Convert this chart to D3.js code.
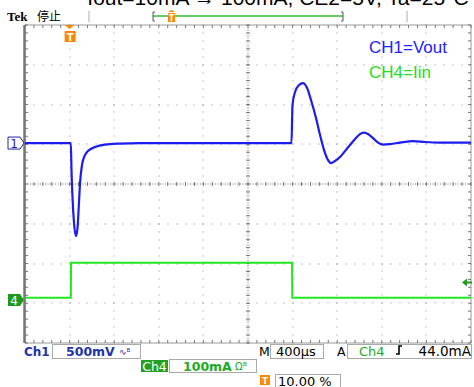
<!DOCTYPE html>
<html><head><meta charset="utf-8">
<script src="https://cdn.jsdelivr.net/npm/d3@7"></script>
<style>body{margin:0;background:#fff}svg{display:block}</style>
</head><body>
<script>
// ---- data ----
const ch1TimeUs = [-400, 11, 17, 26, 39, 57, 71, 82, 93, 111, 138, 165, 228, 317, 452, 631, 1990,
  1999, 2022, 2058, 2094, 2130, 2165, 2210, 2246, 2282, 2318, 2344, 2380, 2425, 2470, 2515, 2560,
  2604, 2640, 2676, 2721, 2766, 2811, 2874, 2964, 3080, 3188, 3322, 3600];
const ch1mV = [0, 0, -340, -680, -994, -1170, -1069, -805, -516, -277, -151, -101, -50, -19, -6, 0, 0,
  478, 642, 730, 755, 692, 541, 314, 101, -88, -214, -252, -226, -176, -101, -25, 50,
  113, 132, 113, 63, 6, -19, -13, 6, 25, 13, 6, 6];
const ch4TimeUs = [-400, 11, 13, 1995, 1997, 3600];
const ch4mA = [6, 6, 94, 94, 6, 6];
const legendLabels = ["CH1=Vout", "CH4=Iin"];
const title = "Iout=10mA \u2192 100mA, CE2=5V, Ta=25\u00B0C";
const settings = {ch1Scale: "500mV", ch4Scale: "100mA", timeScale: "400\u00B5s", trigLevel: "44.0mA", trigPos: "10.00 %"};
const ch1VoltsPerDiv = 500, ch4AmpsPerDiv = 100, timePerDiv = 400;
const ch1Pos = 1.03, ch4Pos = -2.92, trigLevelmA = 44;

const W = 474, H = 387;
const svg = d3.select("body").append("svg").attr("width", W).attr("height", H);
const L = 25, R = 471, T = 25, B = 343;
const x = d3.scaleLinear().domain([-timePerDiv, 9 * timePerDiv]).range([L, R]);
const yDiv = d3.scaleLinear().domain([-4, 4]).range([B, T]);
const y1 = v => yDiv(ch1Pos + v / ch1VoltsPerDiv);
const y4 = a => yDiv(ch4Pos + a / ch4AmpsPerDiv);

// title (cut by top edge)
svg.append("text").attr("x", 278).attr("y", 5).attr("text-anchor", "middle")
  .attr("font-family", "Liberation Sans, Arial").attr("font-size", 21).attr("fill", "#000").text(title);

// top bar
svg.append("text").attr("x", 7).attr("y", 21).attr("font-family", "Liberation Serif").attr("font-weight", "bold")
  .attr("font-size", 13).text("Tek");
svg.append("text").attr("x", 37).attr("y", 21).attr("font-family", "Noto Sans CJK SC").attr("font-size", 12).text("停止");
[89, 407].forEach(px => svg.append("line").attr("x1", px).attr("x2", px).attr("y1", 11).attr("y2", 22).attr("stroke", "#aaa"));
svg.append("line").attr("x1", 153).attr("x2", 343).attr("y1", 16).attr("y2", 16).attr("stroke", "#33bb33").attr("stroke-width", 1.3);
svg.append("path").attr("d", "M155,12 h-2 v9 h2 M341,12 h2 v9 h-2").attr("fill", "none").attr("stroke", "#555");
svg.append("rect").attr("x", 168).attr("y", 13).attr("width", 7).attr("height", 9).attr("fill", "#ff8800");
svg.append("path").attr("d", "M168,12 h7 l-3.5,-2z").attr("fill", "#ff8800");
svg.append("text").attr("x", 171.5).attr("y", 21).attr("text-anchor", "middle").attr("font-size", 8).attr("font-weight", "bold")
  .attr("font-family", "DejaVu Sans").attr("fill", "#fff").text("T");

// graticule
const g = svg.append("g");
g.append("rect").attr("x", L).attr("y", T).attr("width", R - L).attr("height", B - T).attr("fill", "#fff").attr("stroke", "#999");
g.append("line").attr("x1", L - 0.5).attr("x2", L - 0.5).attr("y1", T).attr("y2", B).attr("stroke", "#777").attr("stroke-width", 2.5);
const dotC = "#888";
const minorX = d3.range(-timePerDiv, 9 * timePerDiv + 1, timePerDiv / 5);
const minorY = d3.range(-4, 4.01, 0.2);
// vertical grid lines
for (let i = 0; i <= 8; i++) {
  const tv = i * timePerDiv;
  if (i === 4) continue;
  minorY.forEach(d => g.append("rect").attr("x", Math.round(x(tv)) - 0.5).attr("y", Math.round(yDiv(d)) - 0.5).attr("width", 1).attr("height", 1).attr("fill", dotC));
}
for (let j = -3; j <= 3; j++) {
  if (j === 0) continue;
  minorX.forEach(t => g.append("rect").attr("x", Math.round(x(t)) - 0.5).attr("y", Math.round(yDiv(j)) - 0.5).attr("width", 1).attr("height", 1).attr("fill", dotC));
}
// center crosshair
const cx = x(4 * timePerDiv), cy = yDiv(0);
g.append("line").attr("x1", cx).attr("x2", cx).attr("y1", T).attr("y2", B).attr("stroke", "#777").attr("stroke-dasharray", "1,1.5");
g.append("line").attr("x1", L).attr("x2", R).attr("y1", cy).attr("y2", cy).attr("stroke", "#777").attr("stroke-dasharray", "1,1.5");
minorY.forEach(d => g.append("line").attr("x1", cx - 2).attr("x2", cx + 2).attr("y1", yDiv(d)).attr("y2", yDiv(d)).attr("stroke", "#777"));
minorX.forEach(t => g.append("line").attr("x1", x(t)).attr("x2", x(t)).attr("y1", cy - 2).attr("y2", cy + 2).attr("stroke", "#777"));
// edge ticks
minorX.forEach(t => {
  g.append("line").attr("x1", x(t)).attr("x2", x(t)).attr("y1", T).attr("y2", T + 3).attr("stroke", "#777");
  g.append("line").attr("x1", x(t)).attr("x2", x(t)).attr("y1", B - 3).attr("y2", B).attr("stroke", "#777");
});
minorY.forEach(d => {
  g.append("line").attr("x1", L).attr("x2", L + 3).attr("y1", yDiv(d)).attr("y2", yDiv(d)).attr("stroke", "#777");
  g.append("line").attr("x1", R - 3).attr("x2", R).attr("y1", yDiv(d)).attr("y2", yDiv(d)).attr("stroke", "#777");
});

// traces
const ch1 = ch1TimeUs.map((t, i) => [t, ch1mV[i]]);
const ch4 = ch4TimeUs.map((t, i) => [t, ch4mA[i]]);
svg.append("path").datum(ch4).attr("fill", "none").attr("stroke", "#22e822").attr("stroke-width", 2)
  .attr("d", d3.line().x(d => x(d[0])).y(d => y4(d[1])));
svg.append("path").datum(ch1).attr("fill", "none").attr("stroke", "#1c1cf0").attr("stroke-width", 2.2)
  .attr("d", d3.line().curve(d3.curveMonotoneX).x(d => x(d[0])).y(d => y1(d[1])));

// legend
svg.append("text").attr("x", 369).attr("y", 53).attr("font-family", "Liberation Sans, Arial").attr("font-size", 17)
  .attr("fill", "#2222ff").text(legendLabels[0]);
svg.append("text").attr("x", 369).attr("y", 78).attr("font-family", "Liberation Sans, Arial").attr("font-size", 17)
  .attr("fill", "#22dd22").text(legendLabels[1]);

// trigger marker (time)
const tx = x(0);
svg.append("path").attr("d", `M${tx - 5},${T} h10 l-5,4z`).attr("fill", "#ff8800");
svg.append("rect").attr("x", tx - 5).attr("y", T + 6).attr("width", 11).attr("height", 11).attr("fill", "#ff8800");
svg.append("text").attr("x", tx + 0.5).attr("y", T + 15.5).attr("text-anchor", "middle").attr("font-size", 10).attr("font-weight", "bold")
  .attr("font-family", "DejaVu Sans").attr("fill", "#fff").text("T");

// channel markers
const gy1 = y1(0), gy4 = y4(0);
svg.append("path").attr("d", `M8,${gy1 - 6} h12 l4,6 l-4,6 h-12z`).attr("fill", "#fff").attr("stroke", "#2222aa");
svg.append("text").attr("x", 14).attr("y", gy1 + 4.5).attr("text-anchor", "middle").attr("font-family", "DejaVu Sans")
  .attr("font-size", 12).attr("fill", "#2222aa").text("1");
svg.append("path").attr("d", `M8,${gy4 - 6} h12 l4,6 l-4,6 h-12z`).attr("fill", "#1f9a1f");
svg.append("text").attr("x", 14).attr("y", gy4 + 4.5).attr("text-anchor", "middle").attr("font-family", "DejaVu Sans")
  .attr("font-size", 12).attr("fill", "#fff").text("4");
// trigger level arrow
const ty = y4(trigLevelmA);
svg.append("path").attr("d", `M462,${ty} l5,-4 v3 h5 v2 h-5 v3z`).attr("fill", "#1f9a1f");

// bottom readouts
const f = "DejaVu Sans";
const box = (x0, y0, w, h) => svg.append("rect").attr("x", x0).attr("y", y0).attr("width", w).attr("height", h)
  .attr("fill", "none").attr("stroke", "#aaa");
svg.append("text").attr("x", 24).attr("y", 356).attr("font-family", f).attr("font-weight", "bold").attr("font-size", 12)
  .attr("fill", "#2233aa").text("Ch1");
box(52.5, 344.5, 88, 14);
svg.append("text").attr("x", 66).attr("y", 356).attr("font-family", f).attr("font-weight", "bold").attr("font-size", 12.5)
  .attr("fill", "#2233aa").text(settings.ch1Scale);
svg.append("text").attr("x", 119).attr("y", 355).attr("font-family", f).attr("font-size", 9).attr("fill", "#2233aa").text("\u223F\u1D2E");
svg.append("text").attr("x", 259).attr("y", 356).attr("font-family", f).attr("font-size", 12.5).attr("fill", "#000").text("M");
box(270.5, 344.5, 53, 14);
svg.append("text").attr("x", 276).attr("y", 356).attr("font-family", f).attr("font-size", 13).attr("fill", "#000").text(settings.timeScale);
svg.append("text").attr("x", 337).attr("y", 356).attr("font-family", f).attr("font-size", 12.5).attr("fill", "#000").text("A");
box(347.5, 344.5, 124, 14);
svg.append("text").attr("x", 359).attr("y", 356).attr("font-family", f).attr("font-size", 13).attr("fill", "#22aa22").text("Ch4");
svg.append("path").attr("d", "M396,354 h3 v-8 h3").attr("fill", "none").attr("stroke", "#000").attr("stroke-width", 1.6);
svg.append("text").attr("x", 471).attr("y", 356).attr("text-anchor", "end").attr("font-family", f).attr("font-size", 13.5).attr("fill", "#000").text(settings.trigLevel);
// second row
svg.append("rect").attr("x", 141).attr("y", 360).attr("width", 27).attr("height", 12).attr("fill", "#22a022");
svg.append("text").attr("x", 154.5).attr("y", 370.5).attr("text-anchor", "middle").attr("font-family", f).attr("font-size", 12.5).attr("fill", "#fff").text("Ch4");
box(169.5, 359.5, 87, 13);
svg.append("text").attr("x", 183).attr("y", 370.5).attr("font-family", f).attr("font-weight", "bold").attr("font-size", 12.5).attr("fill", "#22aa22").text(settings.ch4Scale);
svg.append("text").attr("x", 235).attr("y", 370).attr("font-family", f).attr("font-size", 10).attr("fill", "#22aa22").text("\u03A9\u1D2E");
// third row
svg.append("rect").attr("x", 260).attr("y", 375).attr("width", 10).attr("height", 10).attr("fill", "#ff8800");
svg.append("text").attr("x", 265).attr("y", 383.5).attr("text-anchor", "middle").attr("font-family", f).attr("font-size", 9).attr("font-weight", "bold").attr("fill", "#fff").text("T");
box(275.5, 374.5, 65, 13);
svg.append("text").attr("x", 278).attr("y", 385.5).attr("font-family", f).attr("font-size", 13).attr("fill", "#000").text(settings.trigPos);
</script>
</body></html>
